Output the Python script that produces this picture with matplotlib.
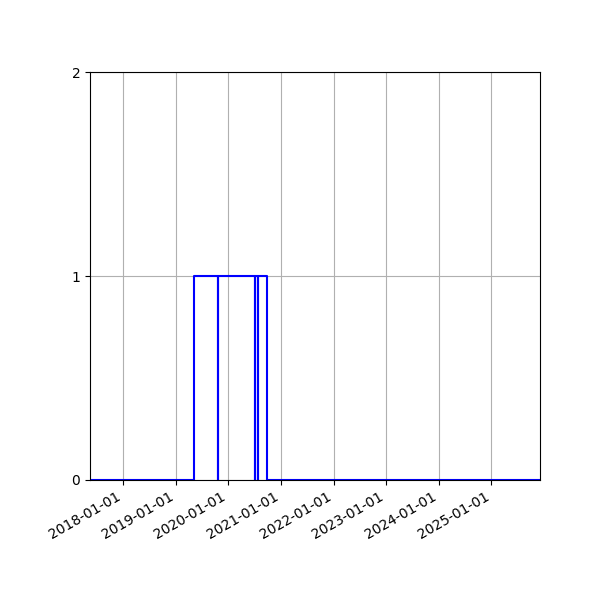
import numpy as np
import pandas as pd
import matplotlib
matplotlib.use("Agg")
import matplotlib.pyplot as plt
import matplotlib.dates as mdates

# change points of the on/off state (steps-post)
dates = ["2017-05-16", "2019-05-10", "2019-10-19", "2019-10-20",
         "2020-07-05", "2020-07-06", "2020-07-28", "2020-07-29",
         "2020-09-27", "2025-12-05"]
state = [0, 1, 0, 1, 0, 1, 0, 1, 0, 0]

x = pd.to_datetime(dates)

fig, ax = plt.subplots(figsize=(6, 6), dpi=100)
ax.plot(x, state, color="b", drawstyle="steps-post")

ax.set_xlim(x[0], x[-1])
ax.set_ylim(0, 2)
ax.set_yticks([0, 1, 2])
ax.xaxis.set_major_locator(mdates.YearLocator())
ax.xaxis.set_major_formatter(mdates.DateFormatter("%Y-%m-%d"))
ax.grid(True)
fig.autofmt_xdate()
fig.subplots_adjust(left=0.15, right=0.9, top=0.88, bottom=0.2)

fig.savefig("out.png")
